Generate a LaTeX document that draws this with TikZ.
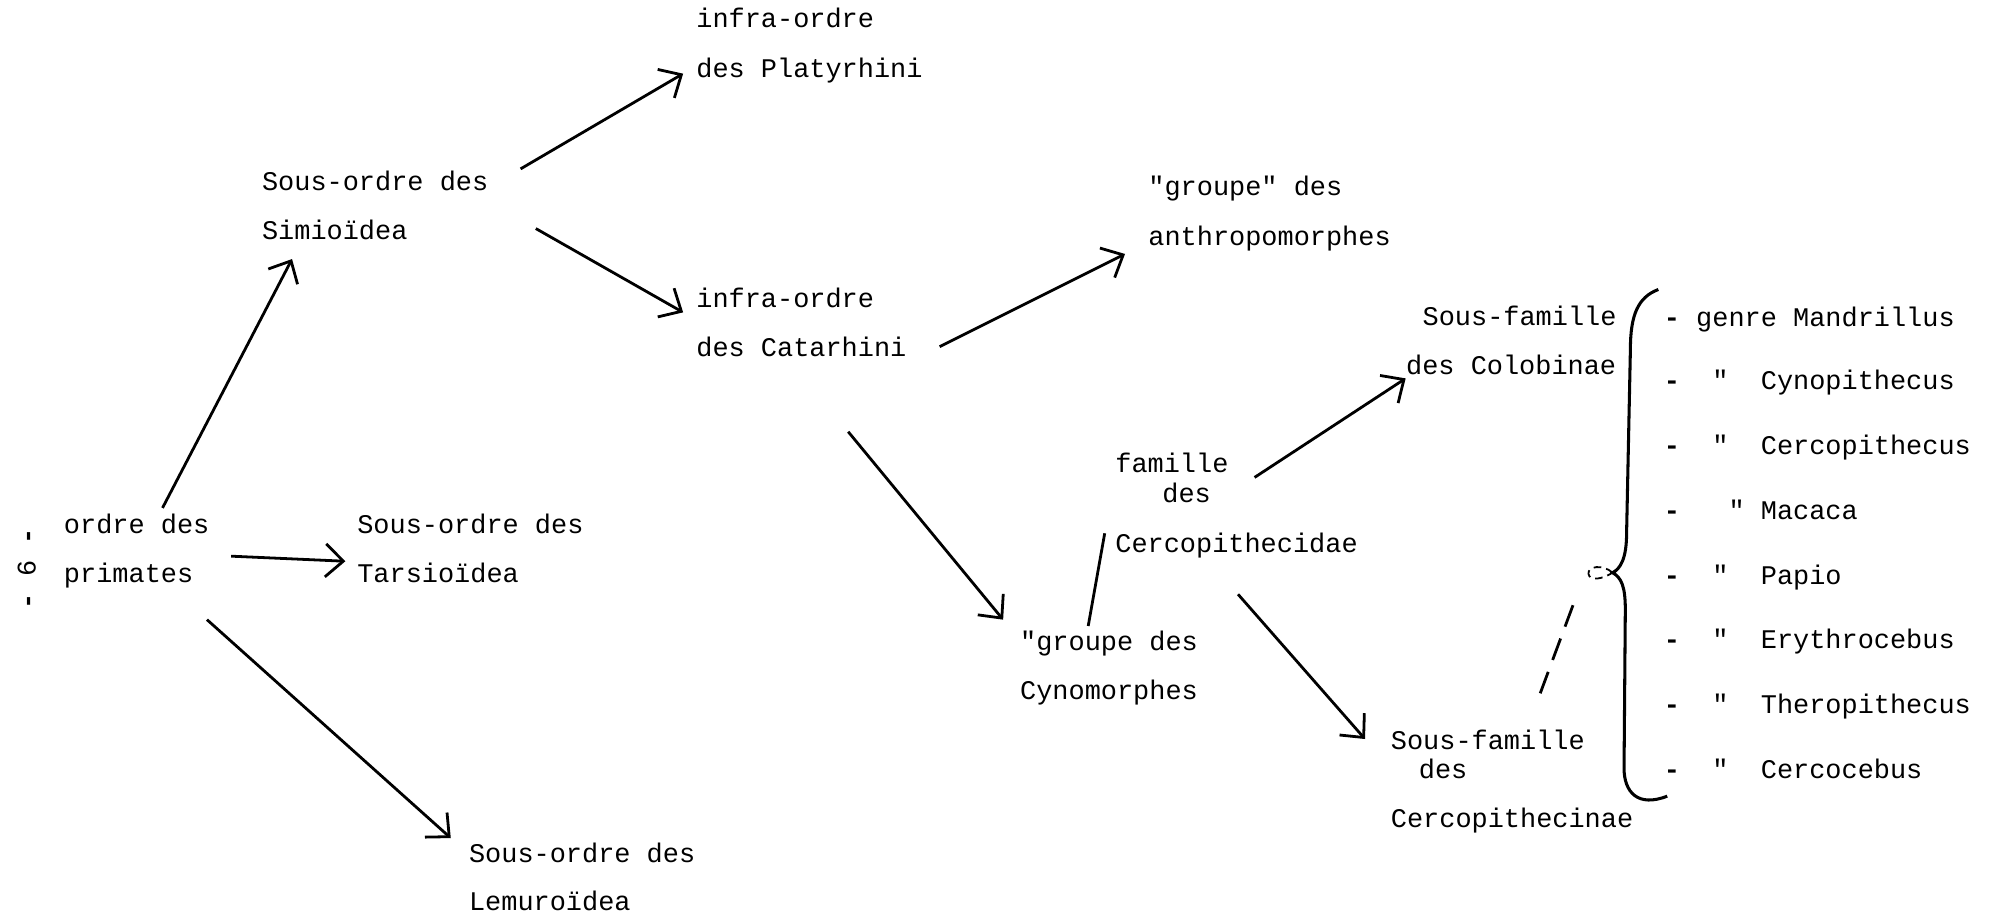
\documentclass[tikz,border=0pt]{standalone}
\usepackage{fontspec}
\setmonofont{Liberation Mono}
\usetikzlibrary{arrows.meta}
\begin{document}
\begin{tikzpicture}[x=0.5pt,y=-0.5pt,
  lbl/.style={anchor=base west,inner sep=0pt,font=\ttfamily\fontsize{10.6}{12}\selectfont},
  arr/.style={line width=1.1pt,-{Straight Barb[length=7pt,width=13pt,line width=1.1pt]}},
  plain/.style={line width=1.1pt},
  brace/.style={line width=1.2pt},
  dashlink/.style={line width=1.1pt,dash pattern=on 9pt off 5pt}]
\useasboundingbox (0,0) rectangle (1568,723);
% page number
\node[lbl,anchor=center,rotate=90] (pg) at (21,448) {\textbf{-}~6~\textbf{-}};
% labels
\node[lbl] (pl1) at (548,22) {infra-ordre};
\node[lbl] (pl2) at (548,61) {des Platyrhini};
\node[lbl] (si1) at (206,150) {Sous-ordre des};
\node[lbl] (si2) at (206,189) {Simioïdea};
\node[lbl] (ca1) at (548,242) {infra-ordre};
\node[lbl] (ca2) at (548,281) {des Catarhini};
\node[lbl] (an1) at (904,154) {"groupe" des};
\node[lbl] (an2) at (904,193) {anthropomorphes};
\node[lbl] (co1) at (1120,256) {Sous-famille};
\node[lbl] (co2) at (1107,295) {des Colobinae};
\node[lbl] (fa1) at (878,372) {famille};
\node[lbl] (fa2) at (915,396) {des};
\node[lbl] (fa3) at (878,435) {Cercopithecidae};
\node[lbl] (pr1) at (50,420) {ordre des};
\node[lbl] (pr2) at (50,459) {primates};
\node[lbl] (ta1) at (281,420) {Sous-ordre des};
\node[lbl] (ta2) at (281,459) {Tarsioïdea};
\node[lbl] (cy1) at (803,512) {"groupe des};
\node[lbl] (cy2) at (803,551) {Cynomorphes};
\node[lbl] (ce1) at (1095,590) {Sous-famille};
\node[lbl] (ce2) at (1117,613) {des};
\node[lbl] (ce3) at (1095,652) {Cercopithecinae};
\node[lbl] (le1) at (369,679) {Sous-ordre des};
\node[lbl] (le2) at (369,717) {Lemuroïdea};
% genera list
\node[lbl] (g1) at (1310,257) {\textbf{-}~genre Mandrillus};
\node[lbl] (g2) at (1310,307) {\textbf{-}~~"~~Cynopithecus};
\node[lbl] (g3) at (1310,358) {\textbf{-}~~"~~Cercopithecus};
\node[lbl] (g4) at (1310,409) {\textbf{-}~~~"~Macaca};
\node[lbl] (g5) at (1310,460) {\textbf{-}~~"~~Papio};
\node[lbl] (g6) at (1310,511) {\textbf{-}~~"~~Erythrocebus};
\node[lbl] (g7) at (1310,562) {\textbf{-}~~"~~Theropithecus};
\node[lbl] (g8) at (1310,613) {\textbf{-}~~"~~Cercocebus};
% arrow end points
\coordinate (a1s) at (128,400); \coordinate (a1e) at (230,204);
\coordinate (a2s) at (410,133); \coordinate (a2e) at (538,58);
\coordinate (a3s) at (422,180); \coordinate (a3e) at (538,246);
\coordinate (a4s) at (182,438); \coordinate (a4e) at (272,442);
\coordinate (a5s) at (163,488); \coordinate (a5e) at (355,660);
\coordinate (a6s) at (740,273); \coordinate (a6e) at (886,200);
\coordinate (a7s) at (668,340); \coordinate (a7e) at (790,488);
\coordinate (a8s) at (857,493); \coordinate (a8e) at (870,420);
\coordinate (a9s) at (988,376); \coordinate (a9e) at (1107,298);
\coordinate (a10s) at (975,468); \coordinate (a10e) at (1075,582);
\coordinate (btip) at (1270,451);
\coordinate (dls) at (1213,546); \coordinate (dle) at (1242,468);
% connectors
\draw[arr] (a1s) -- (a1e);
\draw[arr] (a2s) -- (a2e);
\draw[arr] (a3s) -- (a3e);
\draw[arr] (a4s) -- (a4e);
\draw[arr] (a5s) -- (a5e);
\draw[arr] (a6s) -- (a6e);
\draw[arr] (a7s) -- (a7e);
\draw[plain] (a8s) -- (a8e);
\draw[arr] (a9s) -- (a9e);
\draw[arr] (a10s) -- (a10e);
% brace
\draw[brace] (1306,228) .. controls (1290,234) and (1284,248) .. (1284,275)
  -- (1281,420) .. controls (1281,440) and (1276,448) .. (btip)
  .. controls (1277,455) and (1280,462) .. (1280,480)
  -- (1279,605) .. controls (1279,624) and (1290,636) .. (1313,627);
\draw[line width=0.7pt,dash pattern=on 3pt off 2pt] (btip) .. controls (1262,444) and (1250,446) .. (1251,452)
  .. controls (1252,458) and (1262,456) .. (btip);
\draw[dashlink] (dls) -- (dle);
\end{tikzpicture}
\end{document}
